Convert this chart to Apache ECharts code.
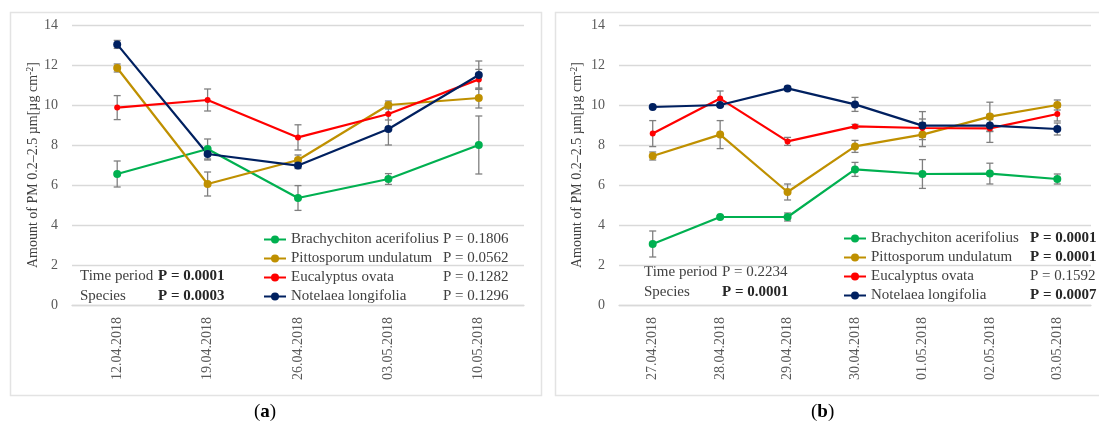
<!DOCTYPE html>
<html><head><meta charset="utf-8">
<script src="https://cdn.jsdelivr.net/npm/echarts@6/dist/echarts.min.js"></script>
<style>html,body{margin:0;padding:0;background:#fff}#c{width:1099px;height:430px}</style>
</head><body><div id="c"></div><script>
// ---------- data ----------
const speciesNames = ['Brachychiton acerifolius', 'Pittosporum undulatum', 'Eucalyptus ovata', 'Notelaea longifolia'];
const speciesColors = ['#00B050', '#BF9000', '#FF0000', '#002060'];
const yTicks = [0, 2, 4, 6, 8, 10, 12, 14];

// panel (a)
const datesA = ['12.04.2018', '19.04.2018', '26.04.2018', '03.05.2018', '10.05.2018'];
const brachyA = [6.55, 7.8, 5.35, 6.3, 8.0];
const brachyErrA = [0.65, 0.5, 0.62, 0.27, 1.45];
const pittoA = [11.85, 6.05, 7.25, 10.0, 10.35];
const pittoErrA = [0.2, 0.6, 0.25, 0.2, 0.5];
const eucaA = [9.87, 10.25, 8.38, 9.55, 11.28];
const eucaErrA = [0.6, 0.55, 0.63, 0.3, 0.5];
const noteA = [13.03, 7.55, 6.97, 8.8, 11.5];
const noteErrA = [0.2, 0.3, 0.15, 0.8, 0.7];
const speciesPA = ['P = 0.1806', 'P = 0.0562', 'P = 0.1282', 'P = 0.1296'];
const speciesPBoldA = [false, false, false, false];
const timePA = 'P = 0.0001', timePBoldA = true;
const spPA = 'P = 0.0003', spPBoldA = true;

// panel (b)
const datesB = ['27.04.2018', '28.04.2018', '29.04.2018', '30.04.2018', '01.05.2018', '02.05.2018', '03.05.2018'];
const brachyB = [3.05, 4.4, 4.4, 6.78, 6.55, 6.57, 6.3];
const brachyErrB = [0.65, 0.05, 0.2, 0.35, 0.72, 0.52, 0.25];
const pittoB = [7.45, 8.52, 5.65, 7.93, 8.52, 9.42, 10.0];
const pittoErrB = [0.2, 0.7, 0.4, 0.3, 0.6, 0.72, 0.25];
const eucaB = [8.57, 10.32, 8.18, 8.93, 8.85, 8.83, 9.55];
const eucaErrB = [0.65, 0.38, 0.2, 0.1, 0.45, 0.7, 0.35];
const noteB = [9.9, 10.0, 10.83, 10.03, 8.97, 8.97, 8.8];
const noteErrB = [0.05, 0.05, 0.1, 0.35, 0.7, 0.3, 0.3];
const speciesPB = ['P = 0.0001', 'P = 0.0001', 'P = 0.1592', 'P = 0.0007'];
const speciesPBoldB = [true, true, false, true];
const timePB = 'P = 0.2234', timePBoldB = false;
const spPB = 'P = 0.0001', spPBoldB = true;

const panelLabels = ['a', 'b'];
// ---------- chart ----------
const FONT = '"Liberation Serif", "DejaVu Serif", serif';
const TXT = '#404040';
const GRIDC = '#d9d9d9';

const seriesA = [brachyA, pittoA, eucaA, noteA];
const errA = [brachyErrA, pittoErrA, eucaErrA, noteErrA];
const seriesB = [brachyB, pittoB, eucaB, noteB];
const errB = [brachyErrB, pittoErrB, eucaErrB, noteErrB];

function renderErr(params, api) {
  const x = api.value(0), lo = api.value(1), hi = api.value(2);
  const a = api.coord([x, lo]), b = api.coord([x, hi]);
  const w = 3.5;
  const st = { stroke: '#7f7f7f', lineWidth: 1.3 };
  return { type: 'group', children: [
    { type: 'line', shape: { x1: a[0], y1: a[1], x2: b[0], y2: b[1] }, style: st },
    { type: 'line', shape: { x1: a[0] - w, y1: a[1], x2: a[0] + w, y2: a[1] }, style: st },
    { type: 'line', shape: { x1: b[0] - w, y1: b[1], x2: b[0] + w, y2: b[1] }, style: st }
  ]};
}

const series = [];
[[seriesA, errA, 0], [seriesB, errB, 1]].forEach(([vals, errs, gi]) => {
  vals.forEach((v, si) => {
    series.push({
      type: 'custom', name: 'err' + gi + '_' + si, xAxisIndex: gi, yAxisIndex: gi,
      renderItem: renderErr, z: 2, silent: true,
      data: v.map((m, i) => [i, m - errs[si][i], m + errs[si][i]])
    });
  });
  vals.forEach((v, si) => {
    series.push({
      type: 'line', name: speciesNames[si], xAxisIndex: gi, yAxisIndex: gi,
      data: v, z: 3,
      symbol: 'circle', symbolSize: si === 2 ? 6 : 8,
      lineStyle: { color: speciesColors[si], width: 2.2 },
      itemStyle: { color: speciesColors[si] }
    });
  });
});

function yAxis(gi, gap) {
  return {
    type: 'value', gridIndex: gi, min: 0, max: 14, interval: 2,
    axisLine: { show: false }, axisTick: { show: false },
    splitLine: { lineStyle: { color: GRIDC, width: 1.3 } },
    axisLabel: { color: '#595959', fontFamily: FONT, fontSize: 14, margin: 14,
      formatter: v => yTicks.includes(v) ? String(v) : '' },
    name: 'Amount of PM 0.2–2.5 µm[µg cm{sup|-2}]',
    nameLocation: 'middle', nameGap: gap, nameRotate: 90,
    nameTextStyle: { color: TXT, fontFamily: FONT, fontSize: 14,
      rich: { sup: { fontFamily: FONT, fontSize: 10, color: TXT, verticalAlign: 'top', padding: [0, 0, 6, 0] } } }
  };
}
function xAxis(gi, cats) {
  return {
    type: 'category', gridIndex: gi, data: cats, boundaryGap: true,
    axisLine: { show: true, lineStyle: { color: GRIDC, width: 1.3 } },
    axisTick: { show: false },
    axisLabel: { rotate: 90, color: '#595959', fontFamily: FONT, fontSize: 14, margin: 12 }
  };
}
function legend(left, top, nameW, ps, bolds) {
  return {
    orient: 'vertical', left: left, top: top, padding: 0, itemGap: 0,
    itemWidth: 22, itemHeight: 10, selectedMode: false,
    data: speciesNames,
    textStyle: { color: TXT, fontFamily: FONT, fontSize: 15, lineHeight: 19,
      rich: {
        n: { width: nameW, fontFamily: FONT, fontSize: 15, color: TXT },
        p: { fontFamily: FONT, fontSize: 15, color: TXT },
        pb: { fontFamily: FONT, fontSize: 15, color: '#262626', fontWeight: 'bold' }
      } },
    formatter: name => {
      const i = speciesNames.indexOf(name);
      return '{n|' + name + '}{' + (bolds[i] ? 'pb' : 'p') + '|' + ps[i] + '}';
    }
  };
}
function txt(x, y, s, bold) {
  return { type: 'text', left: x, top: y - 9, style: { text: s, fontFamily: FONT, fontSize: 15,
    fill: bold ? '#262626' : TXT, fontWeight: bold ? 'bold' : 'normal' } };
}

const option = {
  animation: false,
  backgroundColor: '#fff',
  grid: [
    { left: 72, top: 25, width: 452, height: 280 },
    { left: 619, top: 25, width: 472, height: 280 }
  ],
  xAxis: [xAxis(0, datesA), xAxis(1, datesB)],
  yAxis: [yAxis(0, 30), yAxis(1, 34)],
  legend: [
    legend(263, 230, 152, speciesPA, speciesPBoldA),
    legend(843, 229, 159, speciesPB, speciesPBoldB)
  ],
  graphic: [
    { type: 'rect', shape: { x: 10.5, y: 12.5, width: 531, height: 383 }, style: { fill: 'none', stroke: '#e3e3e3', lineWidth: 1.5 }, z: -1 },
    { type: 'rect', shape: { x: 555.5, y: 12.5, width: 560, height: 383 }, style: { fill: 'none', stroke: '#e3e3e3', lineWidth: 1.5 }, z: -1 },
    txt(80, 278, 'Time period', false), txt(158, 278, timePA, timePBoldA),
    txt(80, 298, 'Species', false), txt(158, 298, spPA, spPBoldA),
    txt(644, 274, 'Time period', false), txt(722, 274, timePB, timePBoldB),
    txt(644, 294, 'Species', false), txt(722, 294, spPB, spPBoldB),
    { type: 'text', left: 254, top: 403, style: { text: '(' + '{b|' + panelLabels[0] + '})', fontFamily: FONT, fontSize: 19, fill: '#000',
      rich: { b: { fontFamily: FONT, fontSize: 19, fontWeight: 'bold', fill: '#000' } } } },
    { type: 'text', left: 811, top: 403, style: { text: '(' + '{b|' + panelLabels[1] + '})', fontFamily: FONT, fontSize: 19, fill: '#000',
      rich: { b: { fontFamily: FONT, fontSize: 19, fontWeight: 'bold', fill: '#000' } } } }
  ],
  series: series
};
const chart = echarts.init(document.getElementById('c'), null, { renderer: 'canvas' });
chart.setOption(option);
</script></body></html>
